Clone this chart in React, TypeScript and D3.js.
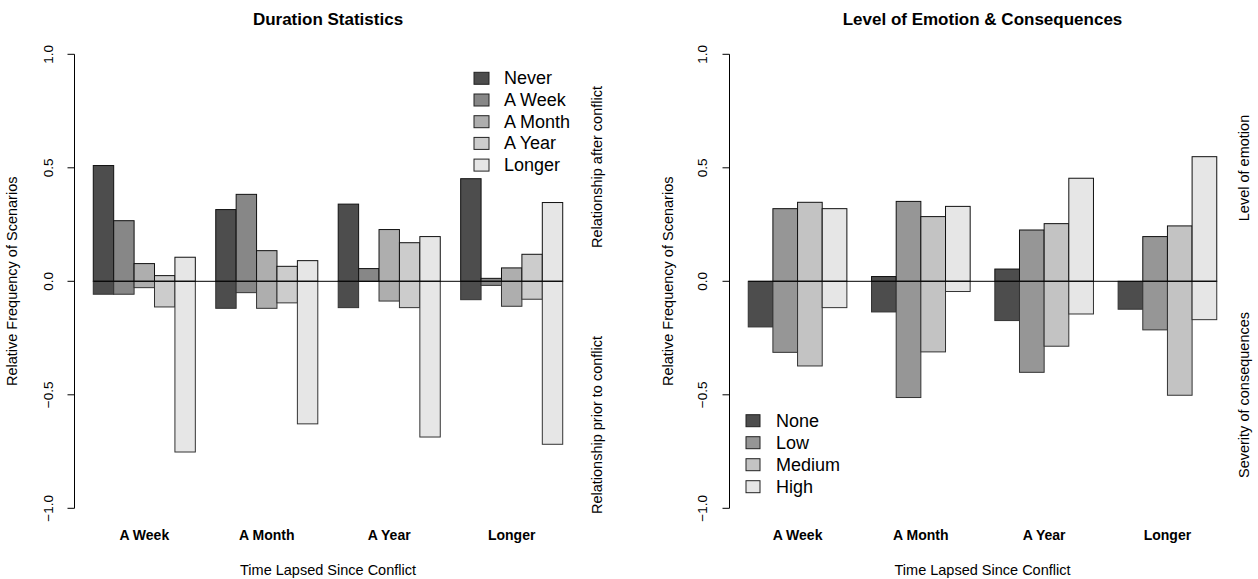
import React from 'react';
import * as d3 from 'd3';

const W = 1258;
const H = 579;
const FONT = 'Liberation Sans, Arial, Helvetica, sans-serif';

// time lapsed since conflict (x categories, both panels)
const periods = ['A Week', 'A Month', 'A Year', 'Longer'];

// left panel: duration series
const durationKeys = ['Never', 'A Week', 'A Month', 'A Year', 'Longer'];
const durationColors = ['#4D4D4D', '#878787', '#AEAEAE', '#CCCCCC', '#E6E6E6'];
// relationship after conflict (upward), one row per period
const relationAfter = [
  [0.51, 0.267, 0.078, 0.025, 0.106],
  [0.316, 0.383, 0.135, 0.066, 0.091],
  [0.34, 0.056, 0.228, 0.17, 0.197],
  [0.452, 0.013, 0.059, 0.119, 0.347],
];
// relationship prior to conflict (downward)
const relationPrior = [
  [-0.057, -0.057, -0.028, -0.113, -0.752],
  [-0.119, -0.05, -0.119, -0.095, -0.628],
  [-0.116, 0, -0.087, -0.116, -0.686],
  [-0.081, -0.018, -0.11, -0.079, -0.718],
];

// right panel: emotion series
const emotionKeys = ['None', 'Low', 'Medium', 'High'];
const emotionColors = ['#4D4D4D', '#969696', '#C3C3C3', '#E6E6E6'];
// level of emotion (upward)
const emotionLevel = [
  [0, 0.32, 0.348, 0.32],
  [0.021, 0.352, 0.285, 0.33],
  [0.054, 0.226, 0.254, 0.454],
  [0, 0.197, 0.244, 0.549],
];
// severity of consequences (downward)
const consequenceSeverity = [
  [-0.201, -0.313, -0.373, -0.116],
  [-0.135, -0.512, -0.311, -0.045],
  [-0.173, -0.401, -0.286, -0.144],
  [-0.123, -0.214, -0.502, -0.169],
];

const yTicks = [-1, -0.5, 0, 0.5, 1];

type PanelProps = {
  title: string;
  left: number;
  right: number;
  keys: string[];
  colors: string[];
  up: number[][];
  down: number[][];
  upLabel: string;
  downLabel: string;
  upLabelY: number;
  downLabelY: number;
  yLabelX: number;
  tickLabelX: number;
  sideLabelX: number;
  legend: { x: number; y: number; box: number; step: number; textX: number };
};

const Panel = (p: PanelProps) => {
  const k = p.keys.length;
  const nUnits = periods.length * (k + 1);
  const span = nUnits - 1;
  const x = d3
    .scaleLinear()
    .domain([1 - 0.04 * span, nUnits + 0.04 * span])
    .range([p.left, p.right]);
  const y = d3.scaleLinear().domain([-1, 1]).range([508.3, 54.3]);
  const unit = x(2) - x(1);
  const cx = (p.left + p.right) / 2;

  const bars: JSX.Element[] = [];
  periods.forEach((_, i) => {
    p.keys.forEach((_, j) => {
      const u = 1 + i * (k + 1) + j;
      const x0 = x(u);
      const up = p.up[i][j];
      const dn = p.down[i][j];
      if (up !== 0)
        bars.push(
          <rect key={`u${i}-${j}`} x={x0} y={y(up)} width={unit} height={y(0) - y(up)}
            fill={p.colors[j]} stroke="#111" strokeWidth={1} />
        );
      if (dn !== 0)
        bars.push(
          <rect key={`d${i}-${j}`} x={x0} y={y(0)} width={unit} height={y(dn) - y(0)}
            fill={p.colors[j]} stroke="#333" strokeWidth={1} />
        );
    });
  });

  return (
    <g fontFamily={FONT} fill="#000">
      <text x={cx} y={25} textAnchor="middle" fontWeight="bold" fontSize={17}>{p.title}</text>
      {bars}
      <line x1={x(1)} x2={x(nUnits)} y1={y(0)} y2={y(0)} stroke="#000" strokeWidth={1} />
      {/* y axis */}
      <line x1={p.left} x2={p.left} y1={y(1)} y2={y(-1)} stroke="#000" />
      {yTicks.map(t => (
        <g key={t}>
          <line x1={p.left - 7} x2={p.left} y1={y(t)} y2={y(t)} stroke="#000" />
          <text transform={`translate(${p.tickLabelX},${y(t)}) rotate(-90)`} textAnchor="middle"
            dominantBaseline="central" fontSize={13.5}>{d3.format('.1f')(t)}</text>
        </g>
      ))}
      {periods.map((c, i) => (
        <text key={c} x={x(1 + i * (k + 1) + k / 2)} y={540} textAnchor="middle" fontWeight="bold"
          fontSize={14}>{c}</text>
      ))}
      <text x={cx} y={575} textAnchor="middle" fontSize={14.5}>Time Lapsed Since Conflict</text>
      <text transform={`translate(${p.yLabelX},${y(0)}) rotate(-90)`} textAnchor="middle"
        dominantBaseline="central" fontSize={14.5}>Relative Frequency of Scenarios</text>
      <text transform={`translate(${p.sideLabelX},${p.upLabelY}) rotate(-90)`} textAnchor="middle"
        dominantBaseline="central" fontSize={14.5}>{p.upLabel}</text>
      <text transform={`translate(${p.sideLabelX},${p.downLabelY}) rotate(-90)`} textAnchor="middle"
        dominantBaseline="central" fontSize={14.5}>{p.downLabel}</text>
      {/* legend */}
      {p.keys.map((key, j) => {
        const cy = p.legend.y + j * p.legend.step;
        return (
          <g key={key}>
            <rect x={p.legend.x} y={cy - 6} width={p.legend.box} height={12} fill={p.colors[j]}
              stroke="#222" />
            <text x={p.legend.textX} y={cy} dominantBaseline="central" fontSize={18}>{key}</text>
          </g>
        );
      })}
    </g>
  );
};

export default function App() {
  return (
    <svg width={W} height={H} style={{ position: 'absolute', left: 0, top: 0, background: '#fff' }}>
      <rect width={W} height={H} fill="#fff" />
      <Panel title="Duration Statistics" left={74.5} right={581.5} keys={durationKeys}
        colors={durationColors} up={relationAfter} down={relationPrior}
        upLabel="Relationship after conflict" downLabel="Relationship prior to conflict"
        upLabelY={167} downLabelY={425} yLabelX={12} tickLabelX={48} sideLabelX={597}
        legend={{ x: 474, y: 78.3, box: 15, step: 21.7, textX: 504 }} />
      <Panel title="Level of Emotion & Consequences" left={729.5} right={1235.5} keys={emotionKeys}
        colors={emotionColors} up={emotionLevel} down={consequenceSeverity}
        upLabel="Level of emotion" downLabel="Severity of consequences"
        upLabelY={168} downLabelY={395} yLabelX={668} tickLabelX={702} sideLabelX={1244}
        legend={{ x: 746, y: 420.7, box: 14, step: 22, textX: 776 }} />
    </svg>
  );
}
